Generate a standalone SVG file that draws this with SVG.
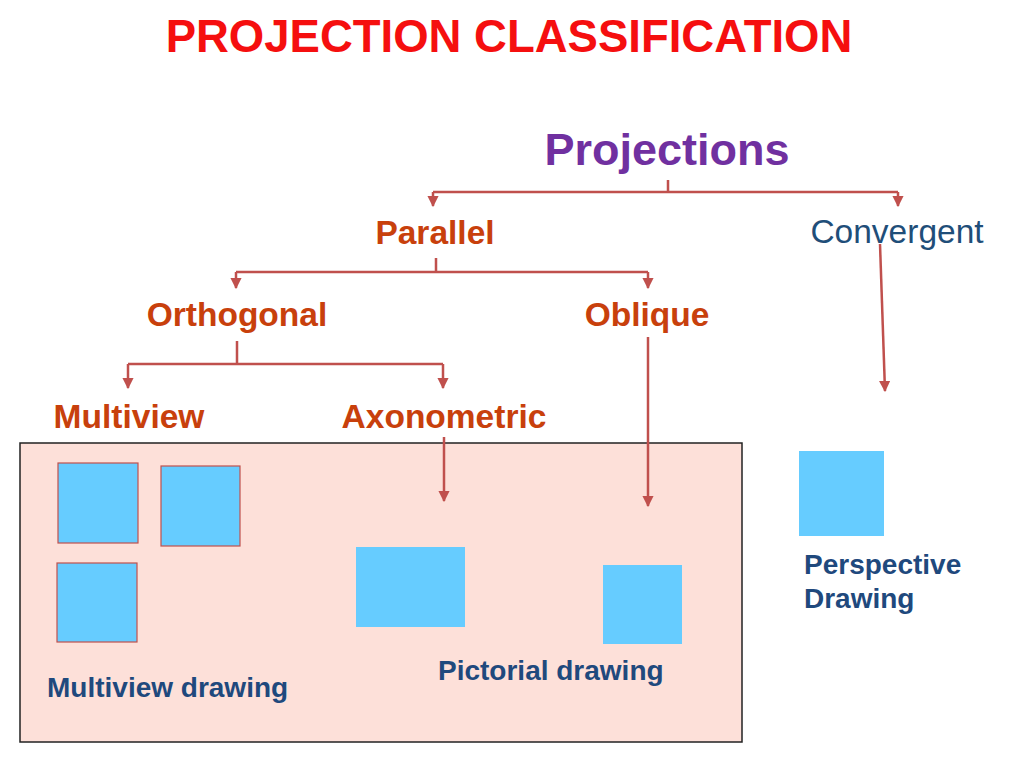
<svg xmlns="http://www.w3.org/2000/svg" width="1024" height="768" viewBox="0 0 1024 768">
<defs>
<style>
.lbl{font-family:"Liberation Sans",Arial,sans-serif;font-weight:bold;text-anchor:middle}
.cap{font-family:"Liberation Sans",Arial,sans-serif;font-weight:bold;fill:#1f497d;font-size:28px}
.node{fill:#c8400c;font-size:33.5px}
.conn{stroke:#c0504d;stroke-width:2.5;fill:none}
.sq{fill:#66ccff}
.sqs{fill:#66ccff;stroke:#c0504d;stroke-width:1.2}
</style>
<marker id="arr" viewBox="0 0 10 10" refX="9" refY="5" markerWidth="4.5" markerHeight="4.5" orient="auto" markerUnits="strokeWidth">
<path d="M0,0 L10,5 L0,10 z" fill="#c0504d"/>
</marker>
</defs>
<rect width="1024" height="768" fill="#ffffff"/>
<text x="509" y="52" class="lbl" font-size="45.5" fill="#f50f0f">PROJECTION CLASSIFICATION</text>

<g id="panel">
<rect x="20" y="443" width="722" height="299" fill="#fde0d9" stroke="#222" stroke-width="1.5"/>
</g>

<g id="connectors">
<path class="conn" d="M668,180 V192 M433,192 H898"/>
<path class="conn" marker-end="url(#arr)" d="M433,192 V206"/>
<path class="conn" marker-end="url(#arr)" d="M898,192 V206"/>
<path class="conn" d="M436,258 V272 M236,272 H648"/>
<path class="conn" marker-end="url(#arr)" d="M236,272 V288"/>
<path class="conn" marker-end="url(#arr)" d="M648,272 V288"/>
<path class="conn" d="M237,341 V364 M128,364 H443"/>
<path class="conn" marker-end="url(#arr)" d="M128,364 V388"/>
<path class="conn" marker-end="url(#arr)" d="M443,364 V388"/>
<path class="conn" marker-end="url(#arr)" d="M444,437 V501"/>
<path class="conn" marker-end="url(#arr)" d="M648,337 V506"/>
<path class="conn" marker-end="url(#arr)" d="M880,244 L885,391"/>
</g>

<g id="projections"><text x="667" y="165" class="lbl" font-size="45" fill="#7030a0">Projections</text></g>
<g id="parallel"><text x="435" y="244" class="lbl node">Parallel</text></g>
<g id="convergent"><text x="897" y="243" font-family="Liberation Sans,Arial,sans-serif" font-size="33.5" text-anchor="middle" fill="#1f4e79">Convergent</text></g>
<g id="orthogonal"><text x="237" y="326" class="lbl node">Orthogonal</text></g>
<g id="oblique"><text x="647" y="326" class="lbl node">Oblique</text></g>
<g id="multiview"><text x="129" y="428" class="lbl node">Multiview</text></g>
<g id="axonometric"><text x="444" y="428" class="lbl node">Axonometric</text></g>

<g id="multiview-drawing">
<rect class="sqs" x="58" y="463" width="80" height="80"/>
<rect class="sqs" x="161" y="466" width="79" height="80"/>
<rect class="sqs" x="57" y="563" width="80" height="79"/>
<text x="47" y="697" class="cap">Multiview drawing</text>
</g>
<g id="pictorial-drawing">
<rect class="sq" x="356" y="547" width="109" height="80"/>
<rect class="sq" x="603" y="565" width="79" height="79"/>
<text x="438" y="680" class="cap">Pictorial drawing</text>
</g>
<g id="perspective-drawing">
<rect class="sq" x="799" y="451" width="85" height="85"/>
<text x="804" y="574" class="cap">Perspective</text>
<text x="804" y="608" class="cap">Drawing</text>
</g>
</svg>
